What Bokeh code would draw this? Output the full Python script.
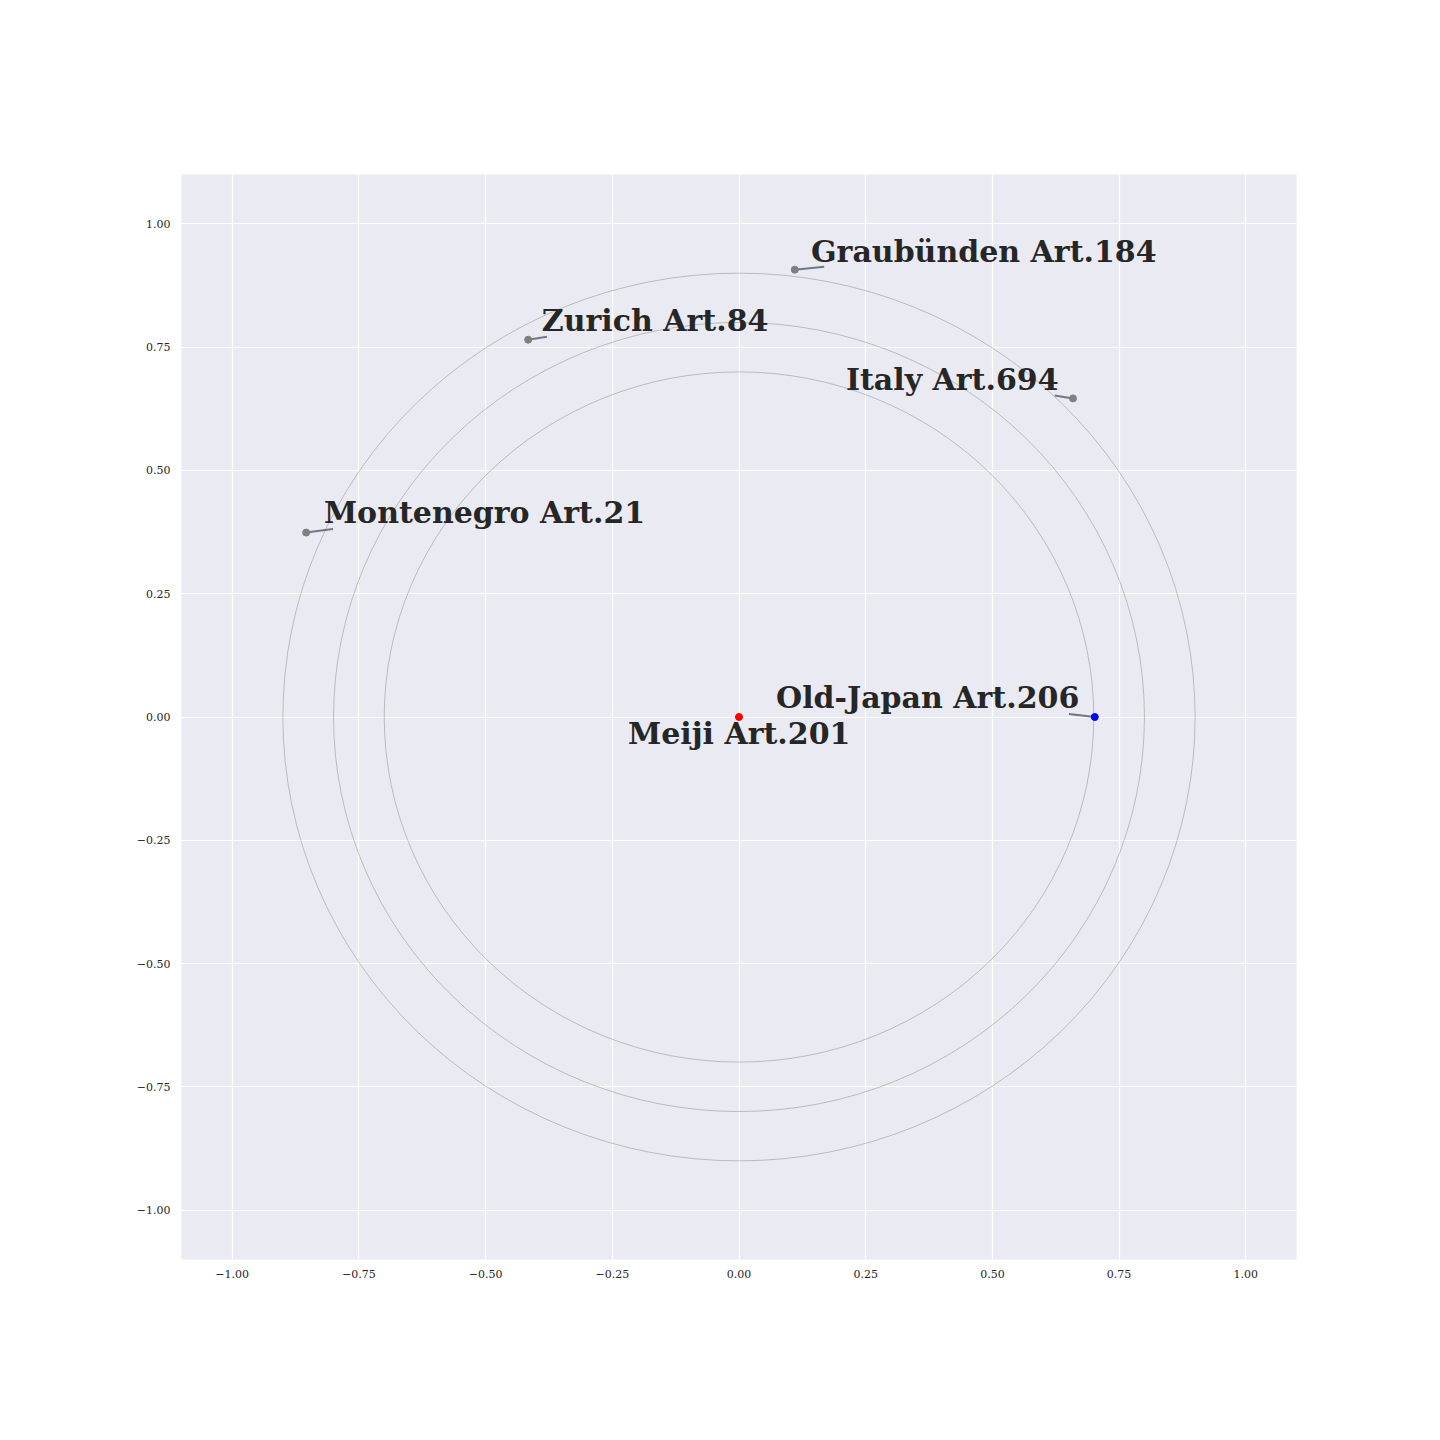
from bokeh.plotting import figure
from bokeh.models import FixedTicker, ColumnDataSource
from bokeh.core.properties import value
from bokeh.embed import file_html
from bokeh.resources import INLINE

# data
names = ["Meiji Art.201", "Old-Japan Art.206", "Italy Art.694", "Graubünden Art.184",
         "Zurich Art.84", "Montenegro Art.21"]
px = [0.0, 0.702, 0.659, 0.110, -0.416, -0.854]
py = [0.0, 0.0, 0.646, 0.907, 0.765, 0.374]
colors = ["red", "blue", "gray", "gray", "gray", "gray"]
label_x = [-0.219, 0.073, 0.211, 0.142, -0.389, -0.819]
label_y = [-0.033, 0.040, 0.684, 0.943, 0.803, 0.415]
arrow_x = [None, 0.651, 0.623, 0.168, -0.379, -0.801]
arrow_y = [None, 0.006, 0.652, 0.913, 0.771, 0.381]
radii = [0.7, 0.8, 0.9]
ticks = [-1.0, -0.75, -0.5, -0.25, 0.0, 0.25, 0.5, 0.75, 1.0]
tick_labels = ["\u22121.00", "\u22120.75", "\u22120.50", "\u22120.25", "0.00", "0.25", "0.50", "0.75", "1.00"]

p = figure(width=1424, height=1424, x_range=(-1.1, 1.1), y_range=(-1.1, 1.1),
           output_backend="svg", toolbar_location=None,
           min_border_left=181, min_border_right=128, min_border_top=174, min_border_bottom=165)
p.background_fill_color = "#EAEAF2"
p.border_fill_color = "white"
p.outline_line_color = None

for ax in (p.xaxis, p.yaxis):
    ax.ticker = FixedTicker(ticks=ticks)
    ax.major_label_overrides = {t: l for t, l in zip(ticks, tick_labels)}
    ax.axis_line_color = None
    ax.major_tick_line_color = None
    ax.minor_tick_line_color = None
    ax.major_label_text_font = "DejaVu Serif"
    ax.major_label_text_font_size = "11px"
    ax.major_label_text_color = "#262626"
p.xaxis.major_label_standoff = 4
p.yaxis.major_label_standoff = 5
p.grid.grid_line_color = "white"
p.grid.grid_line_width = 1.2

# circles
p.ellipse(x=[0]*len(radii), y=[0]*len(radii), width=[2*r for r in radii],
          height=[2*r for r in radii], fill_color=None, line_color="#9a9a9a", line_width=0.6)

# arrows
seg = ColumnDataSource(dict(x0=[px[i] for i in range(1, 6)], y0=[py[i] for i in range(1, 6)],
                            x1=arrow_x[1:], y1=arrow_y[1:]))
p.segment(x0="x0", y0="y0", x1="x1", y1="y1", source=seg, line_color="#6f7785", line_width=2)

# points
p.scatter(px, py, size=7, color=colors)

# labels
p.text(x=label_x, y=label_y, text=names, text_font=value("DejaVu Serif"), text_font_style="bold",
       text_font_size="30px", text_color="#262626", text_baseline="alphabetic", text_align="left")

open("out.html", "w").write(file_html(p, INLINE))
